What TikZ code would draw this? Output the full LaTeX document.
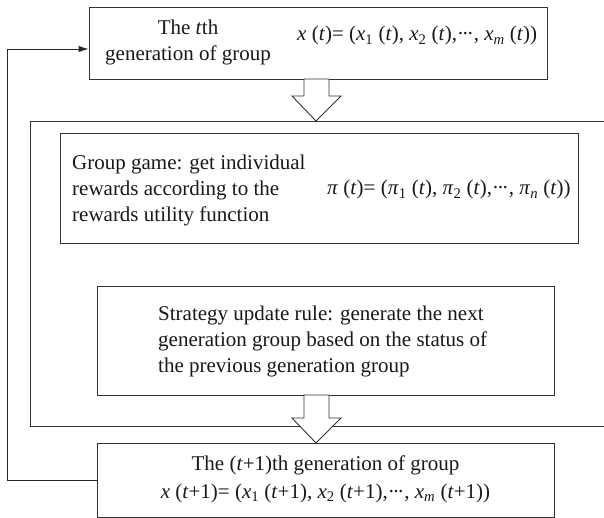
\documentclass[tikz,border=0pt]{standalone}
\usepackage{fontspec}
\setmainfont{Liberation Serif}
\usetikzlibrary{arrows.meta}
\newcommand{\vi}[1]{\textit{#1}}
\newcommand{\sbs}[1]{\textsubscript{#1}}
\newcommand{\mydots}{·\kern-2.2pt·\kern-2.2pt·}
\begin{document}
\begin{tikzpicture}[x=1pt,y=-1pt,
  box/.style={draw=black!80, line width=0.9pt, fill=white, inner sep=0pt, rectangle},
  txt/.style={font=\fontsize{21}{26}\selectfont, inner sep=0pt, text=black!90},
  hollow/.style={draw=black!80, line width=0.9pt, fill=white, line join=miter},
  fb/.style={draw=black!85, line width=0.9pt, -{Latex[length=10pt,width=6.5pt]}}]
\useasboundingbox (0,0) rectangle (604,518);
\clip (0,0) rectangle (604,518);
% boxes
\node[box, minimum width=610pt, minimum height=305pt] (outer) at (335,273.5) {};
\node[box, minimum width=458pt, minimum height=72pt] (top) at (318,43) {};
\node[box, minimum width=518pt, minimum height=110pt] (game) at (319,188) {};
\node[box, minimum width=457pt, minimum height=109pt] (rule) at (325.5,340.5) {};
\node[box, minimum width=457pt, minimum height=74pt] (bot) at (325.5,480) {};
% texts
\node[txt, align=center] (toplbl) at (188,42) {The \vi{t}th\\generation of group};
\node[txt, anchor=base west] (topfx) at (297,41)
  {\vi{x} (\vi{t})= (\vi{x}\sbs{1} (\vi{t}), \vi{x}\sbs{2} (\vi{t}),\mydots, \vi{x}\sbs{\vi{m}} (\vi{t}))};
\node[txt, align=left, anchor=west] (gamelbl) at (72,190)
  {Group game: get individual\\rewards according to the\\rewards utility function};
\node[txt, anchor=base west] (gamefx) at (327,195)
  {\vi{π} (\vi{t})= (\vi{π}\sbs{1} (\vi{t}), \vi{π}\sbs{2} (\vi{t}),\mydots, \vi{π}\sbs{\vi{n}} (\vi{t}))};
\node[txt, align=left, anchor=west] (rulelbl) at (158,341)
  {Strategy update rule: generate the next\\generation group based on the status of\\the previous generation group};
\node[txt, anchor=base] (botlbl) at (325.5,470) {The (\vi{t}+1)th generation of group};
\node[txt, anchor=base] (botfx) at (325.5,498)
  {\vi{x} (\vi{t}+1)= (\vi{x}\sbs{1} (\vi{t}+1), \vi{x}\sbs{2} (\vi{t}+1),\mydots, \vi{x}\sbs{\vi{m}} (\vi{t}+1))};
% hollow arrows
\draw[hollow] (304,79) -- (304,96) -- (292,96) -- (316,121) -- (341,96) -- (329,96) -- (329,79) -- cycle;
\draw[hollow] (304,395) -- (304,418) -- (292,418) -- (316,443) -- (341,418) -- (329,418) -- (329,395) -- cycle;
% feedback
\coordinate (fbx) at (7,480);
\draw[fb] (bot.west) -- (fbx) |- ([yshift=-6pt]top.west);
\end{tikzpicture}
\end{document}
